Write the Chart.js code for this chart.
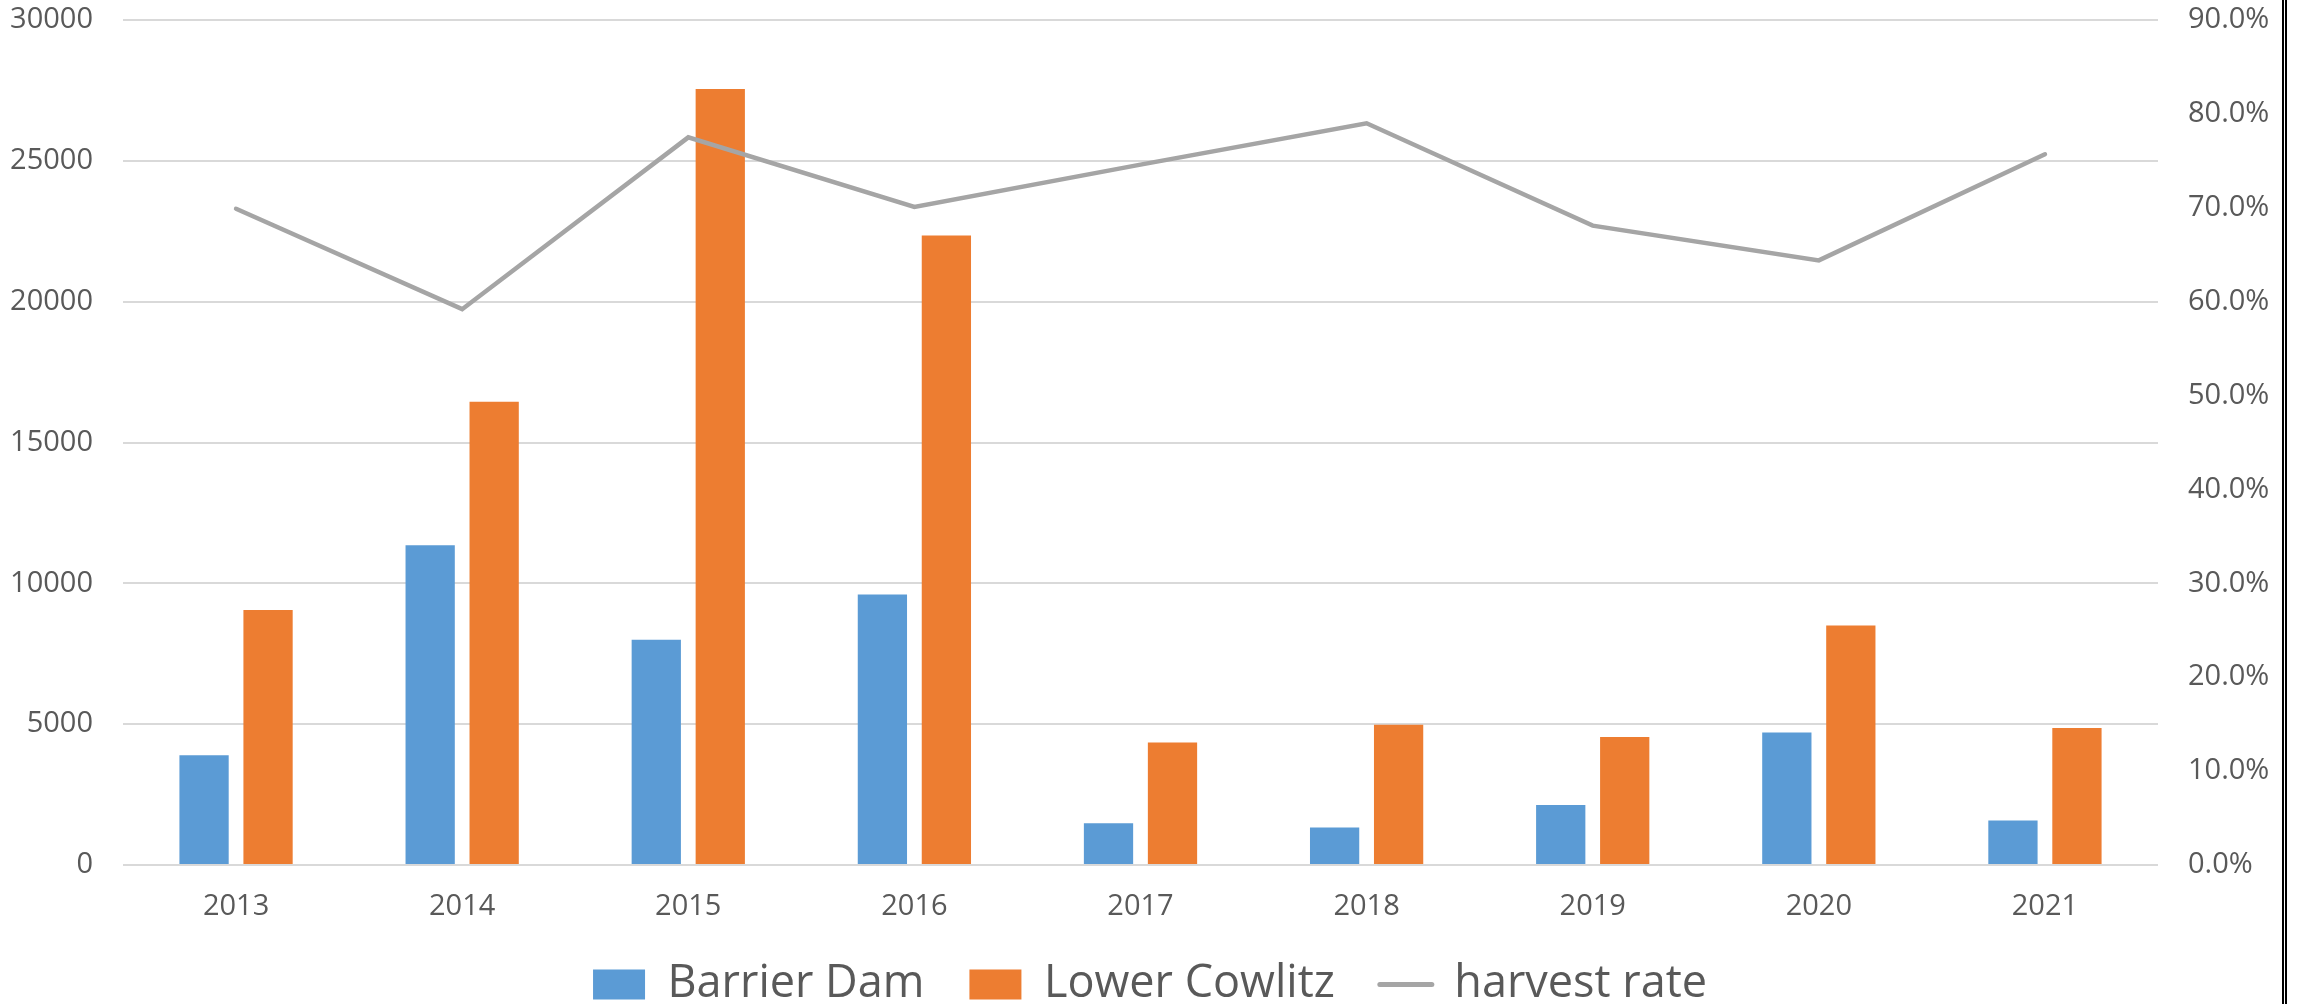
<!DOCTYPE html>
<html>
<head>
<meta charset="utf-8">
<script src="https://cdn.jsdelivr.net/npm/chart.js@4"></script>
<style>
    body { margin: 0; background: #fff; }
    #wrap { position: relative; width: 2300px; height: 1004px; }
    #edge { position: absolute; left: 2282px; top: 0; width: 0; height: 1004px; border-left: 5px double #000; }
</style>
</head>
<body>
<div id="wrap">
    <canvas id="myChart"></canvas>
    <div id="edge"></div>
</div>
<script>
const years = ['2013', '2014', '2015', '2016', '2017', '2018', '2019', '2020', '2021'];
const barrierDam = [3900, 11350, 8000, 9600, 1480, 1330, 2130, 4700, 1580];
const lowerCowlitz = [9050, 16450, 27550, 22350, 4350, 4980, 4540, 8500, 4860];
const harvestRate = [0.699, 0.592, 0.775, 0.701, 0.746, 0.790, 0.681, 0.644, 0.757];

const textColor = '#595959';
const gridColor = '#d9d9d9';
const tickFont = { family: 'Open Sans', size: 29, lineHeight: 1 };

// legend keeps wide spacing between items but sits lower and takes less room
const legendTrim = 44;
const legendLift = 31;

const legendFit = {
    id: 'legendFit',
    afterInit(chart) {
        const legend = chart.legend;
        const fit = legend.fit;
        legend.fit = function () {
            fit.call(this);
            this.height -= legendTrim;
        };
    },
    afterLayout(chart) {
        chart.legend.top -= legendLift;
    }
};

function fixAxis(width) {
    return scale => {
        scale.width = width;
        scale.paddingTop = 0;
        scale.paddingBottom = 0;
    };
}

let ctx = document.getElementById('myChart').getContext('2d');

let myChart = new Chart(ctx, {
    data: {
        labels: years,
        datasets: [{
            type: 'bar',
            label: 'Barrier Dam',
            data: barrierDam,
            backgroundColor: '#5b9bd5',
            yAxisID: 'y',
            order: 1
        }, {
            type: 'bar',
            label: 'Lower Cowlitz',
            data: lowerCowlitz,
            backgroundColor: '#ed7d31',
            yAxisID: 'y',
            order: 1
        }, {
            type: 'line',
            label: 'harvest rate',
            data: harvestRate,
            borderColor: '#a5a5a5',
            backgroundColor: '#a5a5a5',
            borderWidth: 4.5,
            borderCapStyle: 'round',
            pointRadius: 0,
            tension: 0,
            yAxisID: 'y1',
            order: 0
        }]
    },
    options: {
        responsive: true,
        maintainAspectRatio: false,
        animation: false,
        layout: { padding: { top: 20, left: 0, right: 0, bottom: 0 } },
        datasets: {
            bar: { categoryPercentage: 0.566, barPercentage: 0.77 }
        },
        scales: {
            x: {
                grid: { display: false, drawTicks: false },
                border: { display: false },
                ticks: { color: textColor, font: tickFont, padding: 27 }
            },
            y: {
                position: 'left',
                min: 0,
                max: 30000,
                grid: { color: gridColor, lineWidth: 2, drawTicks: false },
                border: { display: false },
                ticks: { stepSize: 5000, color: textColor, font: tickFont, padding: 30, callback: v => String(v) },
                afterFit: fixAxis(123)
            },
            y1: {
                position: 'right',
                min: 0,
                max: 0.9,
                grid: { display: false, drawTicks: false },
                border: { display: false },
                ticks: {
                    stepSize: 0.1,
                    color: textColor,
                    font: tickFont,
                    padding: 30,
                    callback: v => (v * 100).toFixed(1) + '%'
                },
                afterFit: fixAxis(142)
            }
        },
        plugins: {
            tooltip: { enabled: false },
            legend: {
                position: 'bottom',
                labels: {
                    color: textColor,
                    font: { family: 'Open Sans', size: 45 },
                    usePointStyle: true,
                    pointStyleWidth: 52,
                    boxWidth: 52,
                    boxHeight: 30,
                    padding: 45,
                    generateLabels: chart => chart.data.datasets.map((ds, i) => ({
                        text: ds.label,
                        datasetIndex: i,
                        fillStyle: ds.type === 'line' ? ds.borderColor : ds.backgroundColor,
                        strokeStyle: ds.type === 'line' ? ds.borderColor : ds.backgroundColor,
                        lineWidth: ds.type === 'line' ? 5 : 0,
                        lineCap: 'round',
                        pointStyle: ds.type === 'line' ? 'line' : 'rect',
                        fontColor: textColor,
                        hidden: false
                    }))
                }
            }
        }
    },
    plugins: [legendFit]
});
</script>
</body>
</html>
